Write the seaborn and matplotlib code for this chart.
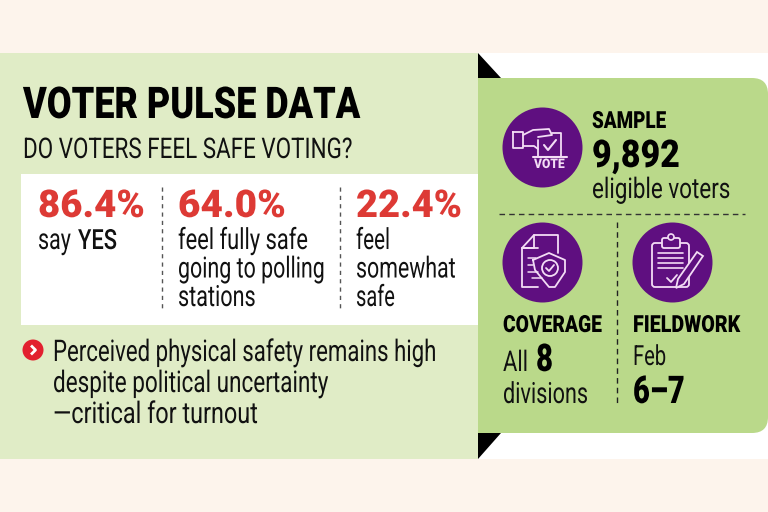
import matplotlib
matplotlib.use('Agg')
import matplotlib.pyplot as plt
import seaborn as sns
import pandas as pd
from matplotlib.patches import Rectangle, Polygon, FancyBboxPatch, Circle
from matplotlib.patheffects import AbstractPathEffect
from matplotlib.transforms import Affine2D

# values and wording from the picture
title = 'VOTER PULSE DATA'
question = 'DO VOTERS FEEL SAFE VOTING?'
shares = [86.4, 64.0, 22.4]
share_labels = [['say'], ['feel fully safe', 'going to polling', 'stations'], ['feel', 'somewhat', 'safe']]
note_lines = ['Perceived physical safety remains high', 'despite political uncertainty', '\u2014critical for turnout']
sample_size = 9892
divisions = 8
field_days = '6\u20137'

CREAM = '#fdf4ec'
PALE = '#e0ecc6'
GREEN = '#bad98a'
PURPLE = '#5f0f80'
RED = '#dd3a35'
INK = '#111111'
ICON = '#f3dcf5'

sns.set_style('white')
plt.rcParams['font.family'] = ['Roboto', 'DejaVu Sans']

fig = plt.figure(figsize=(7.68, 5.12), dpi=100, facecolor='white')
ax = fig.add_axes([0, 0, 1, 1])
ax.set_xlim(0, 768)
ax.set_ylim(512, 0)
renderer = fig.canvas.get_renderer()


# no condensed font is installed, so the glyphs get reshaped when drawn
class Squeeze(AbstractPathEffect):
    def __init__(self, sx, sy=1.0):
        super().__init__()
        self.sx = sx
        self.sy = sy

    def draw_path(self, renderer, gc, tpath, affine, rgbFace=None):
        renderer.draw_path(gc, tpath, Affine2D().scale(self.sx, self.sy) + affine, rgbFace)


def put(x, y, s, size, width, color=INK, weight='normal', tall=1.0):
    t = ax.text(x, y, s, fontsize=size / tall, color=color, fontweight=weight, va='baseline', ha='left', zorder=5)
    sx = width / t.get_window_extent(renderer).width
    t.set_path_effects([Squeeze(sx, tall)])
    return t


# panels
ax.add_patch(Rectangle((0, 0), 768, 53, color=CREAM, lw=0))
ax.add_patch(Rectangle((0, 459), 768, 53, color=CREAM, lw=0))
ax.add_patch(Rectangle((0, 53), 478, 406, color=PALE, lw=0))
ax.add_patch(FancyBboxPatch((500, 78), 268, 355, boxstyle='round,pad=0,rounding_size=16', color=GREEN, lw=0))
ax.add_patch(Rectangle((478, 78), 60, 355, color=GREEN, lw=0))
ax.add_patch(Polygon([(478, 53), (478, 78), (501, 78)], color='black', lw=0))
ax.add_patch(Polygon([(478, 433), (501, 433), (478, 459)], color='black', lw=0))
ax.add_patch(Rectangle((21, 174), 457, 151, color='white', lw=0))

# dashed dividers
for x in [162, 340]:
    ax.plot([x, x], [187, 308], color='#555555', lw=1, ls=(0, (3, 3)))
ax.plot([499, 745], [214, 214], color='#333333', lw=1, ls=(0, (4, 3)))
ax.plot([617, 617], [222, 405], color='#222222', lw=1, ls=(0, (4, 3)))

# badges
badges = pd.DataFrame({'x': [542, 542, 672], 'y': [147, 262, 262]})
sns.scatterplot(data=badges, x='x', y='y', s=3318, color=PURPLE, linewidth=0, ax=ax, zorder=3)
ax.add_patch(Circle((33, 350), 10.5, color='#e2202f', lw=0))
ax.plot([31, 35.5, 31], [345.5, 350, 354.5], color='white', lw=2, solid_capstyle='butt')


def stroke(points, lw=1.3):
    xs, ys = zip(*points)
    ax.plot(xs, ys, color=ICON, lw=lw, zorder=4, solid_joinstyle='round', solid_capstyle='round')


# vote icon
stroke([(513, 132), (523, 132), (523, 148), (513, 148), (513, 132)])
stroke([(523, 135), (533, 130), (549, 129), (552, 135), (538, 137)])
stroke([(523, 146), (534, 146), (538, 149)])
stroke([(538, 140), (538, 157), (561, 157), (561, 133), (552, 133)])
stroke([(544, 145), (548, 150), (556, 140)], 1.5)
stroke([(533, 157), (567, 157)], 1.5)
put(534, 168, 'VOTE', 9.5, 31, color=ICON, weight='black')

# coverage icon
stroke([(538, 248), (522, 248), (522, 287), (538, 287)])
stroke([(522, 248), (534, 235), (558, 235), (558, 253)])
stroke([(534, 235), (534, 248), (522, 248)])
stroke([(533, 260), (549, 253), (565, 260), (565, 272), (555, 287), (549, 287), (535, 270), (533, 260)])
ax.add_patch(Circle((550, 268), 8, fill=False, ec=ICON, lw=1.3, zorder=4))
stroke([(546, 268), (549, 271), (554, 265)])
for y0, x0, x1 in [(258, 528, 536), (265, 528, 533), (272, 528, 538), (278, 532, 542)]:
    stroke([(x0, y0), (x1, y0)], 1.1)

# fieldwork icon
ax.add_patch(FancyBboxPatch((652, 243), 37, 44, boxstyle='round,pad=0,rounding_size=3', fill=False, ec=ICON, lw=1.3, zorder=4))
ax.add_patch(FancyBboxPatch((662, 238), 18, 10, boxstyle='round,pad=0,rounding_size=2', fc=PURPLE, ec=ICON, lw=1.3, zorder=4))
ax.add_patch(Circle((671, 237), 3, fc=PURPLE, ec=ICON, lw=1.2, zorder=4))
for y0 in [253, 258, 263, 268]:
    stroke([(658, y0), (683, y0)], 1.2)
stroke([(667, 278), (671, 282), (677, 275)])
ax.add_patch(Polygon([(676, 288), (678, 279), (697, 252), (703, 256), (684, 284)], fc=PURPLE, ec=ICON, lw=1.3, zorder=4))

# left panel text
put(23, 118, title, 31.5, 337, color='black', weight='black')
put(23, 158, question, 20.5, 330)

for x, w, share in zip([38, 178, 356], [107, 108, 106], shares):
    put(x, 217, f'{share:.1f}%', 27.5, w, color=RED, weight='black')

# long lines would run into their neighbours at full size, so they are set small and stretched up
label_widths = [[33], [130, 147, 78], [34, 100, 39]]
for x, widths, lines in zip([38, 178, 356], label_widths, share_labels):
    for y, w, line in zip([249, 277.5, 306], widths, lines):
        put(x, y, line, 21, w, tall=1.25)
put(78, 249, 'YES', 20, 39, weight='medium')

for y, w, line in zip([361, 392, 423], [383, 275, 205], note_lines):
    put(53, y, line, 21.5, w, tall=1.25)

# right panel text
put(592, 128, 'SAMPLE', 17, 74, color='black', weight='black')
put(592, 167, f'{sample_size:,}', 27.5, 88, color='black', weight='black')
put(592, 198, 'eligible voters', 20.5, 138)

put(503, 332, 'COVERAGE', 17, 99, color='black', weight='black')
put(503, 371, 'All', 20.5, 25)
put(536, 371, str(divisions), 27.5, 17, color='black', weight='black')
put(503, 403, 'divisions', 21, 85)

put(633, 332, 'FIELDWORK', 17, 107, color='black', weight='black')
put(633, 365, 'Feb', 20, 33)
put(633, 403, field_days, 27.5, 52, color='black', weight='black')

ax.set_xlim(0, 768)
ax.set_ylim(512, 0)
ax.axis('off')
fig.savefig('out.png', dpi=100, facecolor='white')
